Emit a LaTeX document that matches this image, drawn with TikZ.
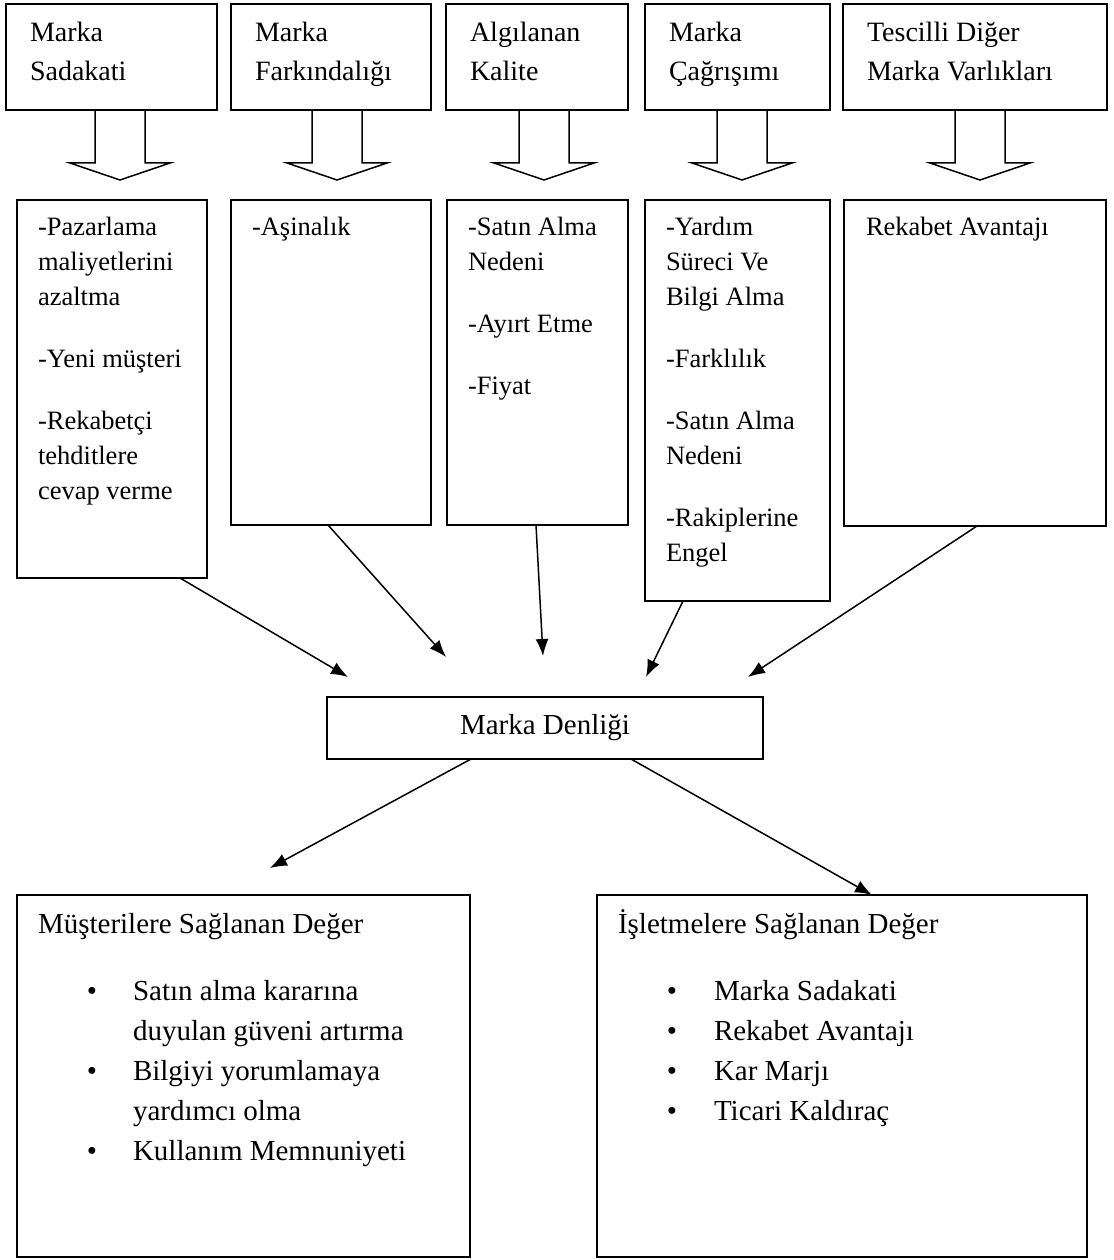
\documentclass[tikz,border=0pt]{standalone}
\usepackage{fontspec}
\setmainfont{Liberation Serif}
\usetikzlibrary{arrows.meta,calc}
\begin{document}
\begin{tikzpicture}[x=1pt,y=-1pt,
  frame/.style={draw, line width=1.5pt, inner sep=0pt, outer sep=0pt, anchor=north west},
  txt/.style={anchor=north west, inner sep=0pt, outer sep=0pt, align=left, font=\fontsize{26.5}{35}\selectfont},
  headtxt/.style={txt, font=\fontsize{28}{39}\selectfont},
  listtxt/.style={txt, font=\fontsize{29}{40}\selectfont},
  bullets/.style={listtxt, anchor=north, align=center},
  link/.style={line width=1.5pt, -{Latex[length=17pt,width=13pt]}},
  downblock/.pic={\draw[line width=1.5pt, line join=miter]
      (-25,0) -- (-25,53) -- (-50,53) -- (0,70) -- (50,53) -- (25,53) -- (25,0);}
]
\useasboundingbox (0,0) rectangle (1113,1260);

% ---- top row: equity dimensions ----
\node[frame, minimum width=211pt, minimum height=106pt] (t1) at (6,4) {};
\node[frame, minimum width=200pt, minimum height=106pt] (t2) at (231,4) {};
\node[frame, minimum width=182pt, minimum height=106pt] (t3) at (446,4) {};
\node[frame, minimum width=185pt, minimum height=106pt] (t4) at (645,4) {};
\node[frame, minimum width=264pt, minimum height=106pt] (t5) at (843,4) {};

\node[headtxt] (t1txt) at (30,14)  {\strut Marka\\\strut Sadakati};
\node[headtxt] (t2txt) at (255,14) {\strut Marka\\\strut Farkındalığı};
\node[headtxt] (t3txt) at (470,14) {\strut Algılanan\\\strut Kalite};
\node[headtxt] (t4txt) at (669,14) {\strut Marka\\\strut Çağrışımı};
\node[headtxt] (t5txt) at (867,14) {\strut Tescilli Diğer\\\strut Marka Varlıkları};

% ---- hollow block arrows ----
\coordinate (a1) at (120,110);
\coordinate (a2) at (337,110);
\coordinate (a3) at (544,110);
\coordinate (a4) at (742,110);
\coordinate (a5) at (980,110);
\foreach \a in {a1,a2,a3,a4,a5} \pic at (\a) {downblock};

% ---- second row: what each dimension brings ----
\node[frame, minimum width=190pt, minimum height=378pt] (b1) at (17,200) {};
\node[frame, minimum width=200pt, minimum height=325pt] (b2) at (231,200) {};
\node[frame, minimum width=181pt, minimum height=325pt] (b3) at (447,200) {};
\node[frame, minimum width=185pt, minimum height=401pt] (b4) at (645,200) {};
\node[frame, minimum width=262pt, minimum height=326pt] (b5) at (844,200) {};

\node[txt] (b1txt) at (38,210.5) {\strut -Pazarlama\\\strut maliyetlerini\\\strut azaltma\\[27pt]
  \strut -Yeni müşteri\\[27pt]\strut -Rekabetçi\\\strut tehditlere\\\strut cevap verme};
\node[txt] (b2txt) at (252,210.5) {\strut -Aşinalık};
\node[txt] (b3txt) at (468,210.5) {\strut -Satın Alma\\\strut Nedeni\\[27pt]\strut -Ayırt Etme\\[27pt]\strut -Fiyat};
\node[txt] (b4txt) at (666,210.5) {\strut -Yardım\\\strut Süreci Ve\\\strut Bilgi Alma\\[27pt]
  \strut -Farklılık\\[27pt]\strut -Satın Alma\\\strut Nedeni\\[27pt]\strut -Rakiplerine\\\strut Engel};
\node[txt] (b5txt) at (866,210.5) {\strut Rekabet Avantajı};

% ---- central node ----
\node[frame, minimum width=436pt, minimum height=62pt, font=\fontsize{29}{35}\selectfont] (md) at (327,697) {Marka Denliği};

\coordinate (p1) at (348,677);
\coordinate (p2) at (446,657);
\coordinate (p3) at (543,656);
\coordinate (p4) at (646,677);
\coordinate (p5) at (748,677);
\draw[link] ($(b1.south west)+(163,0)$) -- (p1);
\draw[link] ($(b2.south west)+(97,0)$) -- (p2);
\draw[link] ($(b3.south west)+(89,0)$) -- (p3);
\draw[link] ($(b4.south west)+(38,0)$) -- (p4);
\draw[link] ($(b5.south west)+(133,0)$) -- (p5);

% ---- bottom row: value created ----
\node[frame, minimum width=453pt, minimum height=362pt] (bl) at (17,895) {};
\node[frame, minimum width=490pt, minimum height=362pt] (br) at (597,895) {};

\coordinate (q1) at (270,868);
\coordinate (q2) at ($(br.north west)+(275,0)$);
\draw[link] ($(md.south west)+(144,0)$) -- (q1);
\draw[link] ($(md.south west)+(304,0)$) -- (q2);

\node[listtxt] (bltitle) at (38,905) {\strut Müşterilere Sağlanan Değer};
\node[bullets] (blbul) at (92,972) {\strut\textbullet\\\strut\\\strut\textbullet\\\strut\\\strut\textbullet};
\node[listtxt] (bllist) at (133,972) {\strut Satın alma kararına\\\strut duyulan güveni artırma\\
  \strut Bilgiyi yorumlamaya\\\strut yardımcı olma\\\strut Kullanım Memnuniyeti};

\node[listtxt] (brtitle) at (618,905) {\strut İşletmelere Sağlanan Değer};
\node[bullets] (brbul) at (672,972) {\strut\textbullet\\\strut\textbullet\\\strut\textbullet\\\strut\textbullet};
\node[listtxt] (brlist) at (714,972) {\strut Marka Sadakati\\\strut Rekabet Avantajı\\
  \strut Kar Marjı\\\strut Ticari Kaldıraç};
\end{tikzpicture}
\end{document}
